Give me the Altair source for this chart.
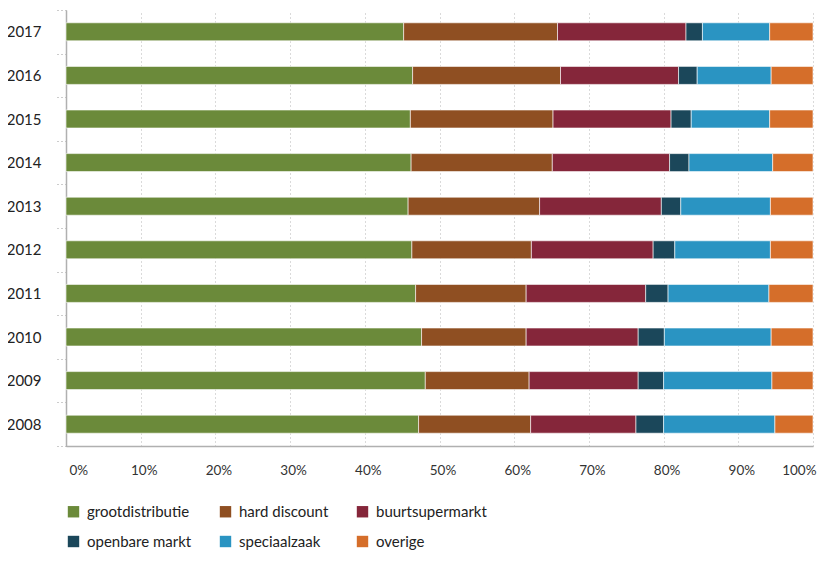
import altair as alt
import pandas as pd

years = ["2017", "2016", "2015", "2014", "2013", "2012", "2011", "2010", "2009", "2008"]
categories = ["grootdistributie", "hard discount", "buurtsupermarkt",
              "openbare markt", "speciaalzaak", "overige"]
colors = ["#6b8a3a", "#8f4f22", "#85263a", "#1b475a", "#2a94c2", "#d56e2a"]

grootdistributie = [45.2, 46.4, 46.1, 46.2, 45.8, 46.3, 46.8, 47.6, 48.1, 47.2]
hard_discount    = [20.6, 19.8, 19.1, 18.9, 17.6, 16.0, 14.8, 14.0, 13.9, 15.0]
buurtsupermarkt  = [17.2, 15.8, 15.8, 15.7, 16.3, 16.3, 16.0, 15.0, 14.6, 14.1]
openbare_markt   = [2.2, 2.5, 2.7, 2.6, 2.6, 2.9, 3.0, 3.5, 3.4, 3.7]
speciaalzaak     = [9.0, 9.9, 10.5, 11.2, 12.0, 12.8, 13.5, 14.3, 14.5, 14.9]
overige          = [5.8, 5.6, 5.8, 5.4, 5.7, 5.7, 5.9, 5.6, 5.5, 5.1]

series = [grootdistributie, hard_discount, buurtsupermarkt,
          openbare_markt, speciaalzaak, overige]

rows = []
for ci, (cat, vals) in enumerate(zip(categories, series)):
    for y, v in zip(years, vals):
        rows.append({"jaar": y, "categorie": cat, "aandeel": v, "volgorde": ci})
df = pd.DataFrame(rows)

FONT = "Lato"

chart = alt.Chart(df).mark_bar(size=18, stroke="#ffffff", strokeWidth=0.6).encode(
    x=alt.X("aandeel:Q", stack="normalize",
            scale=alt.Scale(domain=[0, 1], nice=False),
            axis=alt.Axis(format=".0%", values=[i / 10 for i in range(11)],
                          title=None, grid=True, gridDash=[1, 3], gridColor="#b5b5b5",
                          ticks=False, domainColor="#b0b0b0", domainWidth=1.5,
                          labelFont=FONT, labelFontSize=13.5, labelColor="#333333",
                          labelPadding=17, labelOffset=3)),
    y=alt.Y("jaar:O", sort=years,
            scale=alt.Scale(paddingInner=0, paddingOuter=0),
            axis=alt.Axis(title=None, tickBand="extent", tickDash=[1, 3],
                          tickColor="#999999", tickSize=12, tickOffset=0,
                          domainColor="#b0b0b0", domainWidth=1.5,
                          labelFont=FONT, labelFontSize=15, labelColor="#222222",
                          labelPadding=13)),
    color=alt.Color("categorie:N",
                    scale=alt.Scale(domain=categories, range=colors),
                    legend=alt.Legend(title=None, orient="none", legendX=0, legendY=494,
                                      direction="horizontal", columns=3,
                                      symbolType="square", symbolSize=130,
                                      symbolStrokeWidth=0, symbolOffset=0,
                                      labelFont=FONT, labelFontSize=15,
                                      labelColor="#222222", labelOffset=6,
                                      rowPadding=14, columnPadding=26)),
    order=alt.Order("volgorde:Q", sort="ascending"),
).properties(
    width=747, height=436,
    autosize=alt.AutoSizeParams(type="none"),
    padding={"left": 58, "top": 2, "right": 15, "bottom": 105},
).configure_view(stroke=None)

chart.save("out.html", embed_options={"renderer": "svg", "actions": False})
